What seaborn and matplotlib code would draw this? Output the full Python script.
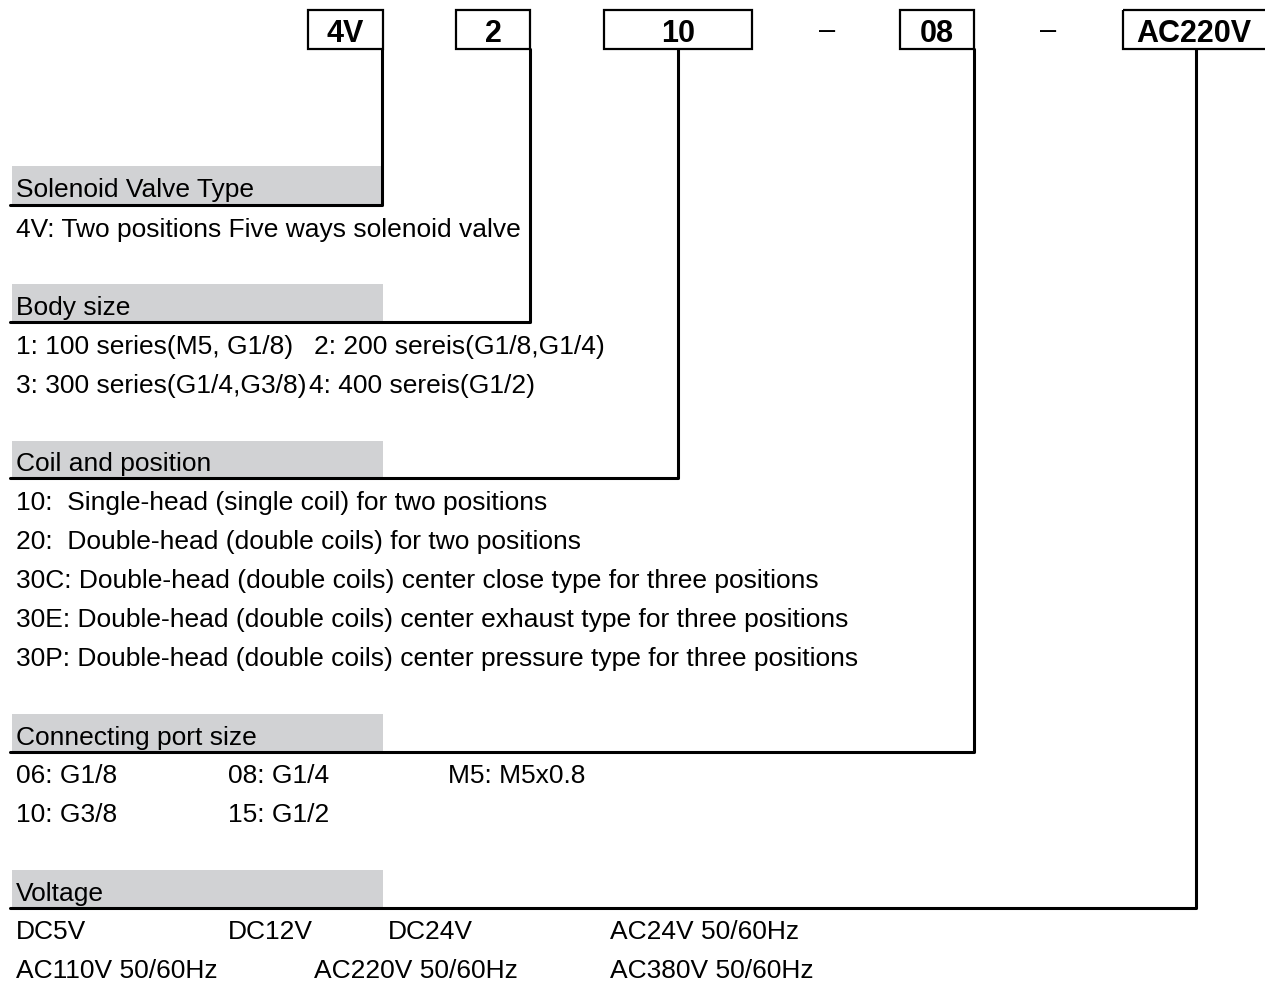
import matplotlib
matplotlib.use("Agg")
import matplotlib.pyplot as plt
import matplotlib.patches as mpatches
import seaborn as sns

# ---- data ----
code_labels = ["4V", "2", "10", "08", "AC220V"]
code_box_left = [308, 456, 604, 900, 1123]
code_box_right = [383, 530, 752, 974, 1290]
connector_x = [382, 530, 678, 974, 1196]
separators = ["–", "–"]
separator_x = [827, 1048]

headers = ["Solenoid Valve Type", "Body size", "Coil and position",
           "Connecting port size", "Voltage"]
header_top = [166, 284, 441, 714, 870]
header_bottom = [205, 322, 478, 752, 908]

# detail texts
detail_text = [
    "4V: Two positions Five ways solenoid valve",
    "1: 100 series(M5, G1/8)", "2: 200 sereis(G1/8,G1/4)",
    "3: 300 series(G1/4,G3/8)", "4: 400 sereis(G1/2)",
    "10:  Single-head (single coil) for two positions",
    "20:  Double-head (double coils) for two positions",
    "30C: Double-head (double coils) center close type for three positions",
    "30E: Double-head (double coils) center exhaust type for three positions",
    "30P: Double-head (double coils) center pressure type for three positions",
    "06: G1/8", "08: G1/4", "M5: M5x0.8",
    "10: G3/8", "15: G1/2",
    "DC5V", "DC12V", "DC24V", "AC24V 50/60Hz",
    "AC110V 50/60Hz", "AC220V 50/60Hz", "AC380V 50/60Hz",
]
detail_x = [16,
            16, 314,
            16, 309,
            16, 16, 16, 16, 16,
            16, 228, 448,
            16, 228,
            16, 228, 388, 610,
            16, 314, 610]
detail_y = [228,
            345, 345,
            384, 384,
            501, 540, 579, 618, 657,
            774, 774, 774,
            813, 813,
            930, 930, 930, 930,
            969, 969, 969]

# ---- figure ----
sns.set_theme(style="white")
plt.rcParams['font.family'] = ['Liberation Sans', 'DejaVu Sans']

W, H = 1265, 985
fig = plt.figure(figsize=(W / 100, H / 100), dpi=100)
ax = fig.add_axes([0, 0, 1, 1])
ax.set_xlim(0, W)
ax.set_ylim(H, 0)
ax.axis("off")

# code boxes
for lab, l, r in zip(code_labels, code_box_left, code_box_right):
    ax.add_patch(mpatches.Rectangle((l, 10), r - l, 39, fill=False,
                                    edgecolor="black", linewidth=1.6, zorder=3))
    cx = (l + r) / 2 if r <= W else (l + W) / 2
    ax.text(cx, 42, lab, ha="center", va="baseline", fontsize=22,
            fontweight="bold", color="black", zorder=4)

for s, x in zip(separators, separator_x):
    ax.text(x, 39, s, ha="center", va="baseline", fontsize=21, color="black")

# header gray boxes
for name, t, b in zip(headers, header_top, header_bottom):
    ax.add_patch(mpatches.Rectangle((12, t), 371, b - t, facecolor="#d1d2d4",
                                    edgecolor="none", zorder=1))
    ax.text(16, (t + b) / 2 + 12, name, ha="left", va="baseline",
            fontsize=19, color="black", zorder=4)

# connectors
for cx, hb in zip(connector_x, header_bottom):
    sns.lineplot(x=[cx, cx, 10], y=[49, hb, hb], sort=False, estimator=None,
                 color="black", linewidth=2.2, ax=ax, zorder=2)

# detail texts
for t, x, y in zip(detail_text, detail_x, detail_y):
    ax.text(x, y + 9, t, ha="left", va="baseline", fontsize=19, color="black")

fig.savefig("out.png", dpi=100, facecolor="white")
